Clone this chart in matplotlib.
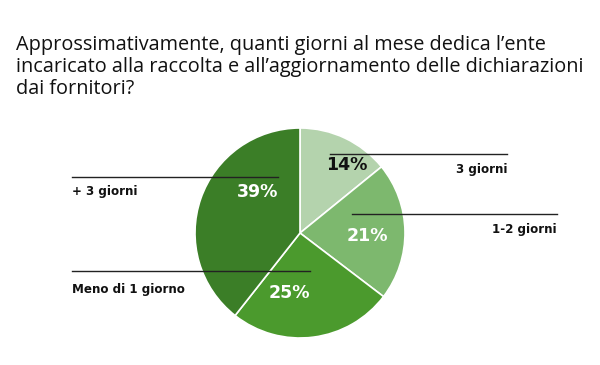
import matplotlib
matplotlib.use("Agg")
import matplotlib.pyplot as plt

# data (clockwise from 12 o'clock)
categories = ["3 giorni", "1-2 giorni", "Meno di 1 giorno", "+ 3 giorni"]
shares = [14, 21, 25, 39]
colors = ["#b4d3ad", "#7db86e", "#4b9a2d", "#3b7e27"]
pct_colors = ["#111111", "white", "white", "white"]

title = ("Approssimativamente, quanti giorni al mese dedica l\u2019ente\n"
         "incaricato alla raccolta e all\u2019aggiornamento delle dichiarazioni\n"
         "dai fornitori?")

H = 365
fig = plt.figure(figsize=(6, 3.65), dpi=100)
ax = fig.add_axes([0, 0, 1, 1])

ax.pie(shares, colors=colors, startangle=90, counterclock=False,
       center=(300, H - 233), radius=105,
       wedgeprops=dict(edgecolor="white", linewidth=1.2))
ax.set_xlim(0, 600)
ax.set_ylim(0, H)
ax.set_aspect("equal")
ax.axis("off")

fig.text(16 / 600, 1 - 67 / H, title, fontsize=14.3, family="Open Sans",
         va="center", ha="left", linespacing=1.15, color="#111111")

# percentage label positions (pixels)
pct_pos = [(347, 165), (367, 236), (289, 293), (258, 192)]
for s, (x, y), c in zip(shares, pct_pos, pct_colors):
    ax.text(x, H - y, f"{s}%", ha="center", va="center", fontsize=12.5,
            fontweight="bold", color=c, family="DejaVu Sans")

# callout lines and labels: (x0, x1, line y, text x, text y, align)
callouts = [
    (330, 507, 154, 507, 170, "right"),
    (352, 557, 214, 557, 230, "right"),
    (310, 72, 271, 72, 290, "left"),
    (278, 72, 177, 72, 191, "left"),
]
for cat, (x0, x1, ly, tx, ty, al) in zip(categories, callouts):
    ax.plot([x0, x1], [H - ly, H - ly], color="#222222", linewidth=1)
    ax.text(tx, H - ty, cat, ha=al, va="center", fontsize=8.6,
            fontweight="bold", color="#111111", family="DejaVu Sans")

fig.savefig("out.png", dpi=100, facecolor="white")
